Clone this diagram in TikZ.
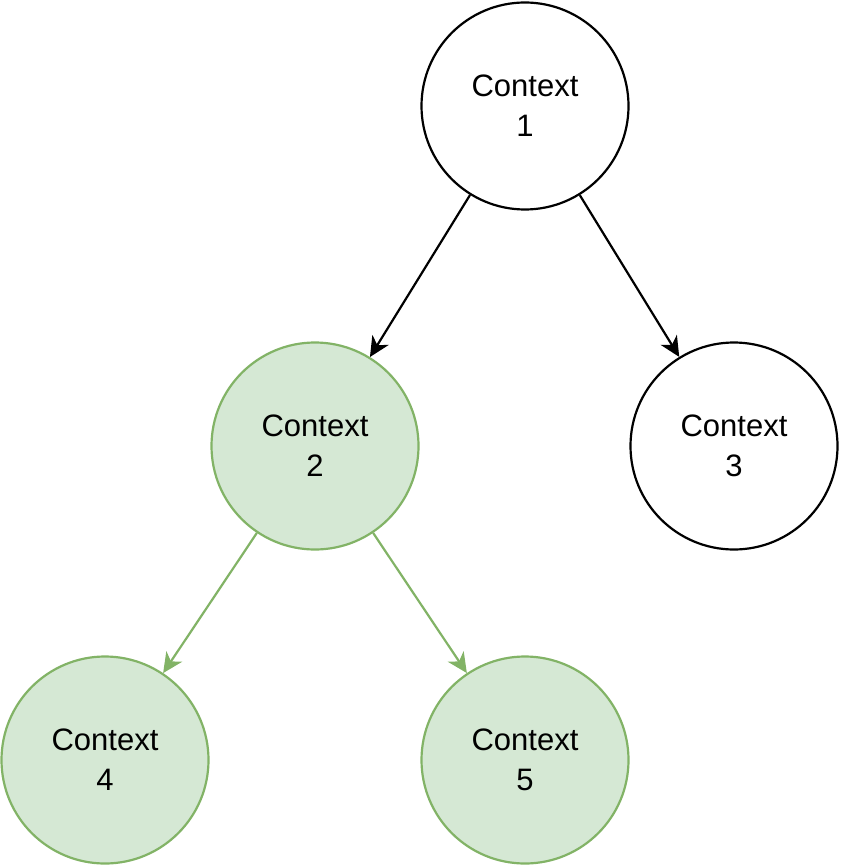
\documentclass[tikz,border=0pt]{standalone}
\usepackage{fontspec}
\setmainfont{Liberation Sans}
\usetikzlibrary{arrows.meta}
\definecolor{gfill}{HTML}{D5E8D4}
\definecolor{gline}{HTML}{82B366}
\begin{document}
\begin{tikzpicture}[x=1pt,y=-1pt,
  ctx/.style={circle,draw=black,fill=white,line width=2.2pt,minimum size=207pt,inner sep=0pt,align=center,font=\fontsize{31}{40}\selectfont},
  gctx/.style={ctx,draw=gline,fill=gfill},
  arr/.style={line width=2.2pt,-{Stealth[length=20pt,width=19pt,inset=6pt]}},
  garr/.style={arr,draw=gline,fill=gline}]
\useasboundingbox (0,0) rectangle (840,866);
\node[ctx] (c1) at (525,106) {Context\\1};
\node[gctx] (c2) at (315,446) {Context\\2};
\node[ctx] (c3) at (734,446) {Context\\3};
\node[gctx] (c4) at (105,760) {Context\\4};
\node[gctx] (c5) at (525,760) {Context\\5};
\draw[arr] (c1) -- (c2);
\draw[arr] (c1) -- (c3);
\draw[garr] (c2) -- (c4);
\draw[garr] (c2) -- (c5);
\end{tikzpicture}
\end{document}
